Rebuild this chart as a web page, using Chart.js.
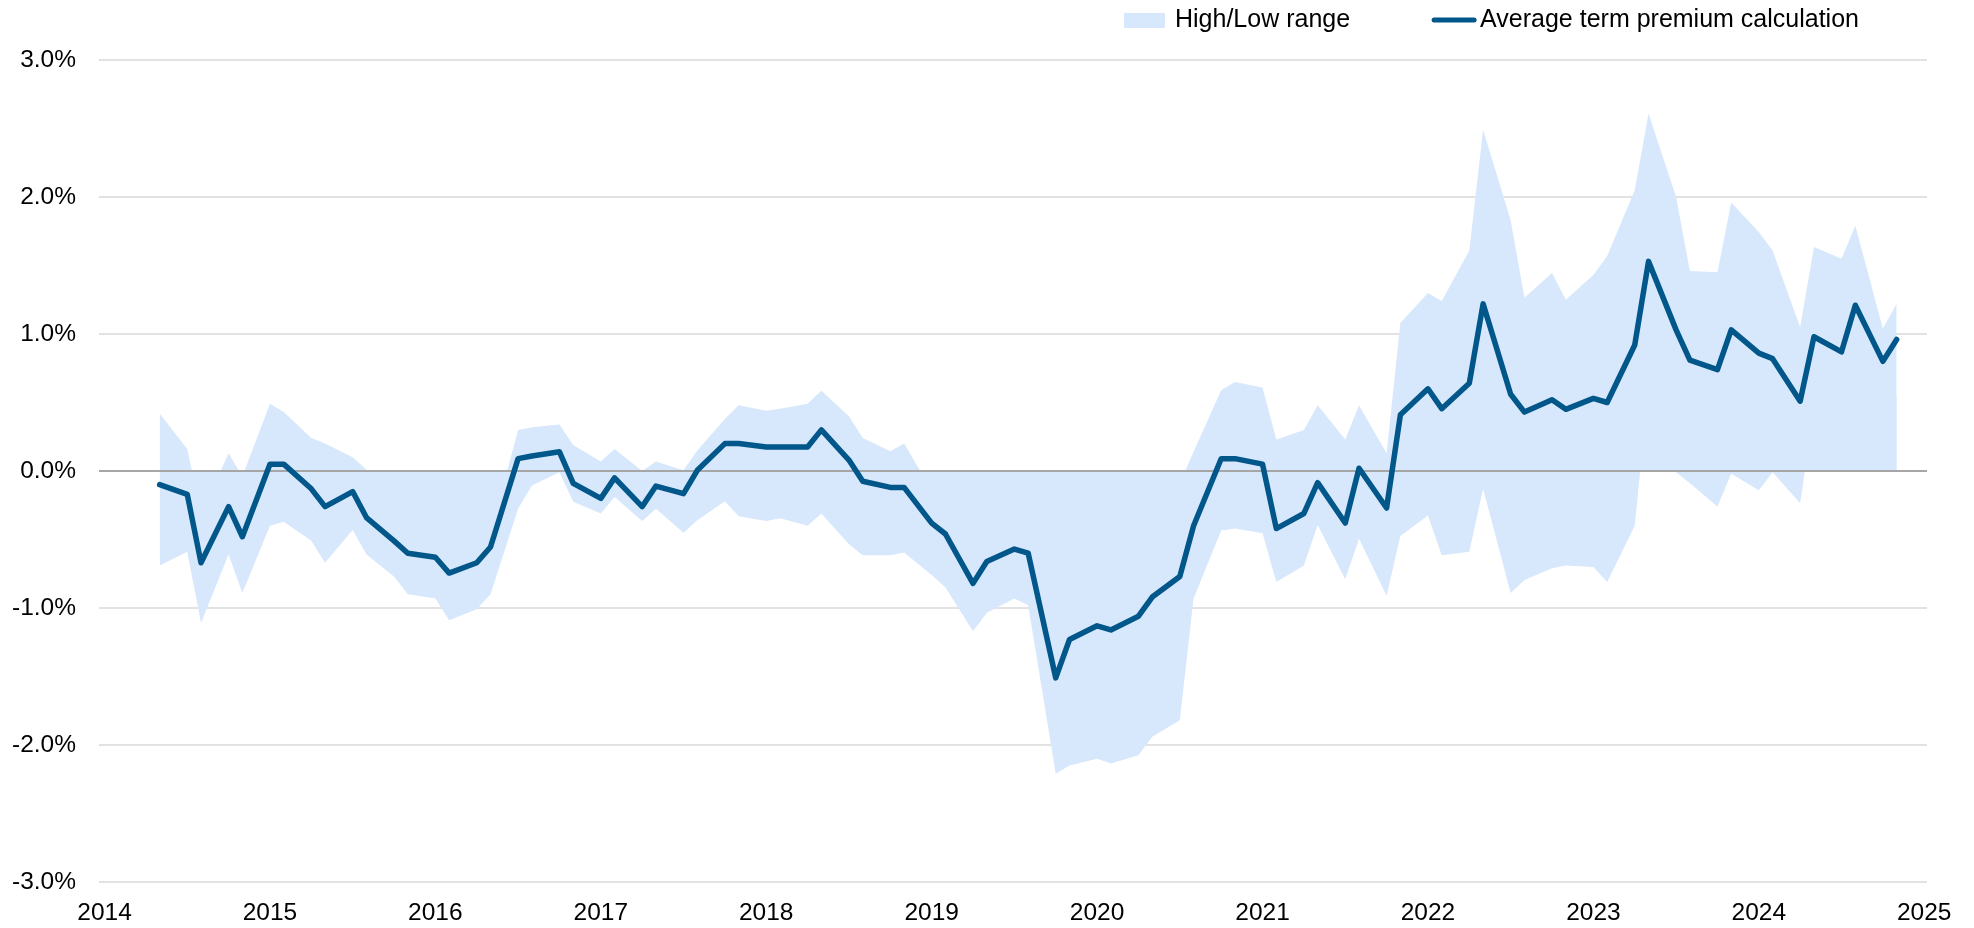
<!DOCTYPE html>
<html lang="en">
<head>
  <meta charset="UTF-8">
  <title>Average term premium calculation</title>
  <script src="https://cdn.jsdelivr.net/npm/chart.js"></script>
  <style>
    html, body {
      margin: 0;
      padding: 0;
      background: #fff;
    }
    #chartBox {
      width: 1974px;
      height: 928px;
    }
  </style>
</head>
<body>
<div id="chartBox">
  <canvas id="tpChart"></canvas>
</div>

<script>
  // observation dates (year-month)
  const dates = [
    '2014-05', '2014-07', '2014-08', '2014-10', '2014-11',
    '2015-01', '2015-02', '2015-04', '2015-05', '2015-07', '2015-08', '2015-10', '2015-11',
    '2016-01', '2016-02', '2016-04', '2016-05', '2016-07', '2016-08', '2016-10', '2016-11',
    '2017-01', '2017-02', '2017-04', '2017-05', '2017-07', '2017-08', '2017-10', '2017-11',
    '2018-01', '2018-02', '2018-04', '2018-05', '2018-07', '2018-08', '2018-10', '2018-11',
    '2019-01', '2019-02', '2019-04', '2019-05', '2019-07', '2019-08', '2019-10', '2019-11',
    '2020-01', '2020-02', '2020-04', '2020-05', '2020-07', '2020-08', '2020-10', '2020-11',
    '2021-01', '2021-02', '2021-04', '2021-05', '2021-07', '2021-08', '2021-10', '2021-11',
    '2022-01', '2022-02', '2022-04', '2022-05', '2022-07', '2022-08', '2022-10', '2022-11',
    '2023-01', '2023-02', '2023-04', '2023-05', '2023-07', '2023-08', '2023-10', '2023-11',
    '2024-01', '2024-02', '2024-04', '2024-05', '2024-07', '2024-08', '2024-10', '2024-11'
  ];

  // average term premium (%)
  const avgTP = [
    -0.10, -0.17, -0.67, -0.26, -0.48,
    0.05, 0.05, -0.13, -0.26, -0.15, -0.34, -0.51, -0.60,
    -0.63, -0.745, -0.67, -0.555, 0.09, 0.11, 0.14, -0.09,
    -0.20, -0.05, -0.26, -0.11, -0.165, 0.005, 0.20, 0.20,
    0.175, 0.175, 0.175, 0.30, 0.08, -0.075, -0.12, -0.12,
    -0.38, -0.46, -0.82, -0.66, -0.57, -0.60, -1.51, -1.23,
    -1.13, -1.16, -1.06, -0.92, -0.77, -0.40, 0.09, 0.09,
    0.05, -0.42, -0.31, -0.085, -0.38, 0.02, -0.27, 0.41,
    0.60, 0.455, 0.64, 1.22, 0.56, 0.43, 0.52, 0.45,
    0.53, 0.50, 0.92, 1.53, 1.03, 0.81, 0.74, 1.03,
    0.86, 0.82, 0.51, 0.98, 0.87, 1.21, 0.80, 0.96
  ];

  // highest estimate (%)
  const highTP = [
    0.42, 0.16, -0.31, 0.13, -0.04,
    0.49, 0.43, 0.24, 0.20, 0.10, 0.01, -0.20, -0.30,
    -0.35, -0.40, -0.40, -0.45, 0.30, 0.32, 0.34, 0.19,
    0.07, 0.16, 0.00, 0.07, 0.005, 0.15, 0.38, 0.48,
    0.44, 0.455, 0.49, 0.585, 0.40, 0.24, 0.145, 0.20,
    -0.14, -0.25, -0.50, -0.40, -0.35, -0.40, -1.00, -0.80,
    -0.70, -0.70, -0.60, -0.50, -0.09, 0.14, 0.59, 0.65,
    0.61, 0.23, 0.30, 0.48, 0.23, 0.48, 0.13, 1.08,
    1.30, 1.24, 1.61, 2.49, 1.83, 1.265, 1.445, 1.25,
    1.43, 1.57, 2.05, 2.61, 2.00, 1.46, 1.45, 1.96,
    1.745, 1.61, 1.05, 1.635, 1.55, 1.79, 1.04, 1.22
  ];

  // lowest estimate (%)
  const lowTP = [
    -0.69, -0.59, -1.11, -0.61, -0.89,
    -0.40, -0.37, -0.51, -0.67, -0.43, -0.61, -0.77, -0.90,
    -0.93, -1.09, -1.01, -0.90, -0.275, -0.105, -0.01, -0.225,
    -0.31, -0.19, -0.365, -0.275, -0.45, -0.36, -0.22, -0.33,
    -0.365, -0.345, -0.40, -0.31, -0.535, -0.615, -0.615, -0.595,
    -0.76, -0.85, -1.17, -1.035, -0.93, -0.98, -2.21, -2.15,
    -2.10, -2.135, -2.075, -1.94, -1.82, -0.93, -0.435, -0.42,
    -0.455, -0.81, -0.69, -0.395, -0.79, -0.495, -0.91, -0.475,
    -0.325, -0.615, -0.59, -0.13, -0.89, -0.795, -0.71, -0.69,
    -0.70, -0.81, -0.40, 0.60, -0.01, -0.09, -0.26, -0.02,
    -0.14, -0.01, -0.235, 0.45, 0.45, 0.60, 0.40, 0.55
  ];

  const yearLabels = ['2014', '2015', '2016', '2017', '2018', '2019', '2020', '2021', '2022', '2023', '2024', '2025'];
  const yTicks = [-3, -2, -1, 0, 1, 2, 3];

  const BAND = '#d7e8fc';
  const LINE = '#01568a';
  const FONT = '"Liberation Sans", Arial, sans-serif';
  const FONT_SIZE = 24.5;

  // months since Jan 2014
  function monthIndex(d) {
    const [y, m] = d.split('-').map(Number);
    return (y - 2014) * 12 + (m - 1);
  }
  const xs = dates.map(monthIndex);
  const yearTicks = yearLabels.map(y => (Number(y) - 2014) * 12);

  const toPoints = vals => vals.map((v, i) => ({ x: xs[i], y: v }));

  // zero axis drawn on top of the shaded range, under the line
  const zeroLine = {
    id: 'zeroLine',
    beforeDatasetDraw(chart, args) {
      if (args.index !== 0) return;
      const { ctx, chartArea } = chart;
      const y = Math.round(chart.scales.y.getPixelForValue(0));
      ctx.save();
      ctx.strokeStyle = '#a6a6a6';
      ctx.lineWidth = 2;
      ctx.beginPath();
      ctx.moveTo(chartArea.left, y);
      ctx.lineTo(chartArea.right, y);
      ctx.stroke();
      ctx.restore();
    }
  };

  // legend in the top right corner
  const topLegend = {
    id: 'topLegend',
    afterDraw(chart) {
      const ctx = chart.ctx;
      const midY = 20;
      let x = 1124;
      ctx.save();
      ctx.font = '25px ' + FONT;
      ctx.textBaseline = 'middle';
      ctx.fillStyle = BAND;
      ctx.fillRect(x, 13, 41, 15);
      x += 51;
      ctx.fillStyle = '#000';
      const t1 = 'High/Low range';
      ctx.fillText(t1, x, midY);
      x += ctx.measureText(t1).width + 82;
      ctx.strokeStyle = LINE;
      ctx.lineWidth = 5;
      ctx.lineCap = 'round';
      ctx.beginPath();
      ctx.moveTo(x + 2, midY);
      ctx.lineTo(x + 42, midY);
      ctx.stroke();
      x += 48;
      ctx.fillText('Average term premium calculation', x, midY);
      ctx.restore();
    }
  };

  const ctx = document.getElementById('tpChart').getContext('2d');
  new Chart(ctx, {
    type: 'line',
    data: {
      datasets: [
        {
          label: 'Average term premium calculation',
          data: toPoints(avgTP),
          borderColor: LINE,
          borderWidth: 5.5,
          borderJoinStyle: 'round',
          borderCapStyle: 'round',
          pointRadius: 0,
          fill: false,
          tension: 0
        },
        {
          label: 'High/Low range',
          data: toPoints(highTP),
          backgroundColor: BAND,
          borderWidth: 0,
          pointRadius: 0,
          fill: 'origin',
          tension: 0
        },
        {
          label: 'Low',
          data: toPoints(lowTP),
          backgroundColor: BAND,
          borderWidth: 0,
          pointRadius: 0,
          fill: 'origin',
          tension: 0
        }
      ]
    },
    options: {
      responsive: true,
      maintainAspectRatio: false,
      animation: false,
      devicePixelRatio: 1,
      layout: {
        padding: { left: 12, right: 47, top: 60, bottom: 0 }
      },
      plugins: {
        legend: { display: false },
        tooltip: { enabled: false }
      },
      scales: {
        x: {
          type: 'linear',
          min: -0.4,
          max: 132.2,
          afterBuildTicks: scale => {
            scale.ticks = yearTicks.map(v => ({ value: v }));
          },
          afterFit: scale => {
            scale.height = 46;
            scale.paddingLeft = 0;
            scale.paddingRight = 0;
          },
          ticks: {
            autoSkip: false,
            maxRotation: 0,
            padding: 17,
            color: '#000',
            font: { family: FONT, size: FONT_SIZE },
            callback: v => yearLabels[yearTicks.indexOf(v)]
          },
          grid: { display: false, drawTicks: false },
          border: { display: false }
        },
        y: {
          min: -3,
          max: 3,
          afterBuildTicks: scale => {
            scale.ticks = yTicks.map(v => ({ value: v }));
          },
          afterFit: scale => {
            scale.width = 87;
          },
          ticks: {
            padding: 23,
            color: '#000',
            font: { family: FONT, size: FONT_SIZE },
            callback: v => v.toFixed(1) + '%'
          },
          grid: {
            drawTicks: false,
            lineWidth: 2,
            color: c => (c.tick && c.tick.value === 0) ? 'rgba(0,0,0,0)' : '#e2e2e2'
          },
          border: { display: false }
        }
      }
    },
    plugins: [zeroLine, topLegend]
  });
</script>
</body>
</html>
